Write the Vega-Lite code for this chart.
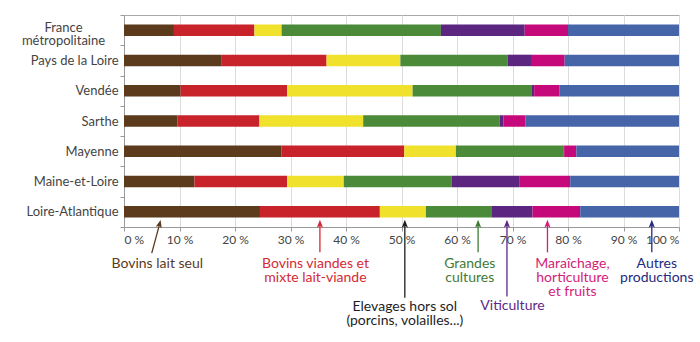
{
  "$schema": "https://vega.github.io/schema/vega-lite/v6.json",
  "width": 555,
  "height": 212,
  "autosize": {"type": "none"},
  "padding": {"left": 124, "top": 15, "right": 21, "bottom": 115},
  "config": {"view": {"stroke": "#a8a8a8"}, "font": "Lato", "text": {"font": "Lato"}},
  "datasets": {
    "bars": [
      {"region": "France métropolitaine", "category": "Bovins lait seul", "rank": 1, "share": 9.0},
      {"region": "France métropolitaine", "category": "Bovins viandes et mixte lait-viande", "rank": 2, "share": 14.5},
      {"region": "France métropolitaine", "category": "Elevages hors sol", "rank": 3, "share": 4.9},
      {"region": "France métropolitaine", "category": "Grandes cultures", "rank": 4, "share": 28.7},
      {"region": "France métropolitaine", "category": "Viticulture", "rank": 5, "share": 15.1},
      {"region": "France métropolitaine", "category": "Maraîchage, horticulture et fruits", "rank": 6, "share": 7.8},
      {"region": "France métropolitaine", "category": "Autres productions", "rank": 7, "share": 20.0},
      {"region": "Pays de la Loire", "category": "Bovins lait seul", "rank": 1, "share": 17.5},
      {"region": "Pays de la Loire", "category": "Bovins viandes et mixte lait-viande", "rank": 2, "share": 19.0},
      {"region": "Pays de la Loire", "category": "Elevages hors sol", "rank": 3, "share": 13.3},
      {"region": "Pays de la Loire", "category": "Grandes cultures", "rank": 4, "share": 19.3},
      {"region": "Pays de la Loire", "category": "Viticulture", "rank": 5, "share": 4.4},
      {"region": "Pays de la Loire", "category": "Maraîchage, horticulture et fruits", "rank": 6, "share": 5.9},
      {"region": "Pays de la Loire", "category": "Autres productions", "rank": 7, "share": 20.6},
      {"region": "Vendée", "category": "Bovins lait seul", "rank": 1, "share": 10.2},
      {"region": "Vendée", "category": "Bovins viandes et mixte lait-viande", "rank": 2, "share": 19.2},
      {"region": "Vendée", "category": "Elevages hors sol", "rank": 3, "share": 22.6},
      {"region": "Vendée", "category": "Grandes cultures", "rank": 4, "share": 21.4},
      {"region": "Vendée", "category": "Viticulture", "rank": 5, "share": 0.5},
      {"region": "Vendée", "category": "Maraîchage, horticulture et fruits", "rank": 6, "share": 4.6},
      {"region": "Vendée", "category": "Autres productions", "rank": 7, "share": 21.5},
      {"region": "Sarthe", "category": "Bovins lait seul", "rank": 1, "share": 9.6},
      {"region": "Sarthe", "category": "Bovins viandes et mixte lait-viande", "rank": 2, "share": 14.8},
      {"region": "Sarthe", "category": "Elevages hors sol", "rank": 3, "share": 18.7},
      {"region": "Sarthe", "category": "Grandes cultures", "rank": 4, "share": 24.6},
      {"region": "Sarthe", "category": "Viticulture", "rank": 5, "share": 0.7},
      {"region": "Sarthe", "category": "Maraîchage, horticulture et fruits", "rank": 6, "share": 3.9},
      {"region": "Sarthe", "category": "Autres productions", "rank": 7, "share": 27.7},
      {"region": "Mayenne", "category": "Bovins lait seul", "rank": 1, "share": 28.4},
      {"region": "Mayenne", "category": "Bovins viandes et mixte lait-viande", "rank": 2, "share": 22.1},
      {"region": "Mayenne", "category": "Elevages hors sol", "rank": 3, "share": 9.3},
      {"region": "Mayenne", "category": "Grandes cultures", "rank": 4, "share": 19.4},
      {"region": "Mayenne", "category": "Viticulture", "rank": 5, "share": 0.1},
      {"region": "Mayenne", "category": "Maraîchage, horticulture et fruits", "rank": 6, "share": 2.2},
      {"region": "Mayenne", "category": "Autres productions", "rank": 7, "share": 18.5},
      {"region": "Maine-et-Loire", "category": "Bovins lait seul", "rank": 1, "share": 12.7},
      {"region": "Maine-et-Loire", "category": "Bovins viandes et mixte lait-viande", "rank": 2, "share": 16.7},
      {"region": "Maine-et-Loire", "category": "Elevages hors sol", "rank": 3, "share": 10.2},
      {"region": "Maine-et-Loire", "category": "Grandes cultures", "rank": 4, "share": 19.4},
      {"region": "Maine-et-Loire", "category": "Viticulture", "rank": 5, "share": 12.2},
      {"region": "Maine-et-Loire", "category": "Maraîchage, horticulture et fruits", "rank": 6, "share": 9.2},
      {"region": "Maine-et-Loire", "category": "Autres productions", "rank": 7, "share": 19.6},
      {"region": "Loire-Atlantique", "category": "Bovins lait seul", "rank": 1, "share": 24.5},
      {"region": "Loire-Atlantique", "category": "Bovins viandes et mixte lait-viande", "rank": 2, "share": 21.6},
      {"region": "Loire-Atlantique", "category": "Elevages hors sol", "rank": 3, "share": 8.3},
      {"region": "Loire-Atlantique", "category": "Grandes cultures", "rank": 4, "share": 11.9},
      {"region": "Loire-Atlantique", "category": "Viticulture", "rank": 5, "share": 7.3},
      {"region": "Loire-Atlantique", "category": "Maraîchage, horticulture et fruits", "rank": 6, "share": 8.6},
      {"region": "Loire-Atlantique", "category": "Autres productions", "rank": 7, "share": 17.8}
    ],
    "arrows": [
      {"category": "Bovins lait seul", "xTail": 5.0, "yTail": 17.0, "xTip": 6.4, "yTip": 14.95},
      {"category": "Bovins viandes et mixte lait-viande", "xTail": 35.3, "yTail": 16.95, "xTip": 35.3, "yTip": 14.95},
      {"category": "Elevages hors sol", "xTail": 50.6, "yTail": 20.2, "xTip": 50.6, "yTip": 14.95},
      {"category": "Grandes cultures", "xTail": 63.8, "yTail": 16.95, "xTip": 63.8, "yTip": 14.95},
      {"category": "Viticulture", "xTail": 69.0, "yTail": 20.1, "xTip": 69.0, "yTip": 14.95},
      {"category": "Maraîchage, horticulture et fruits", "xTail": 76.3, "yTail": 16.95, "xTip": 76.3, "yTip": 14.95},
      {"category": "Autres productions", "xTail": 95.1, "yTail": 16.95, "xTip": 95.1, "yTip": 14.95}
    ],
    "notes": [
      {"category": "Bovins lait seul", "label": "Bovins lait seul", "x": 6.0, "line": 17.25},
      {"category": "Bovins viandes et mixte lait-viande", "label": "Bovins viandes et\nmixte lait-viande", "x": 34.5, "line": 17.25},
      {"category": "Elevages hors sol", "label": "Elevages hors sol\n(porcins, volailles...)", "x": 50.6, "line": 20.35},
      {"category": "Grandes cultures", "label": "Grandes\ncultures", "x": 62.3, "line": 17.25},
      {"category": "Viticulture", "label": "Viticulture", "x": 70.0, "line": 20.25},
      {"category": "Maraîchage, horticulture et fruits", "label": "Maraîchage,\nhorticulture\net fruits", "x": 80.8, "line": 17.25},
      {"category": "Autres productions", "label": "Autres\nproductions", "x": 96.0, "line": 17.25}
    ]
  },
  "layer": [
    {
      "data": {"name": "bars"},
      "mark": {"type": "bar", "size": 11.5},
      "encoding": {
        "y": {
          "field": "region",
          "type": "nominal",
          "sort": ["France métropolitaine", "Pays de la Loire", "Vendée", "Sarthe", "Mayenne", "Maine-et-Loire", "Loire-Atlantique"],
          "scale": {"paddingInner": 0, "paddingOuter": 0},
          "axis": {
            "title": null,
            "tickBand": "extent",
            "tickSize": 4,
            "tickColor": "#999999",
            "domainColor": "#999999",
            "labelFont": "Lato",
            "labelFontSize": 13,
            "labelColor": "#444444",
            "labelLimit": 200,
            "labelLineHeight": 13.5,
            "labelPadding": {"condition": {"test": "datum.value === 'France métropolitaine'", "value": 57}, "value": 2},
            "labelAlign": {"condition": {"test": "datum.value === 'France métropolitaine'", "value": "center"}, "value": "right"},
            "labelOffset": {"condition": {"test": "datum.value === 'France métropolitaine'", "value": -3}, "value": 0},
            "labelExpr": "datum.value === 'France métropolitaine' ? ['France', 'métropolitaine'] : datum.value"
          }
        },
        "x": {
          "field": "share",
          "type": "quantitative",
          "stack": "zero",
          "scale": {"domain": [0, 100], "nice": false},
          "axis": {
            "title": null,
            "values": [0, 10, 20, 30, 40, 50, 60, 70, 80, 90, 100],
            "labelExpr": "datum.value + ' %'",
            "grid": true,
            "gridColor": "#dcdcdc",
            "tickSize": 4,
            "tickColor": "#999999",
            "domainColor": "#999999",
            "labelFont": "Lato",
            "labelFontSize": 12,
            "labelColor": "#444444",
            "labelPadding": 3
          }
        },
        "color": {
          "field": "category",
          "type": "nominal",
          "scale": {
            "domain": ["Bovins lait seul", "Bovins viandes et mixte lait-viande", "Elevages hors sol", "Grandes cultures", "Viticulture", "Maraîchage, horticulture et fruits", "Autres productions"],
            "range": ["#5b3b1c", "#c8232b", "#f0e12d", "#4a8a39", "#5b2580", "#c6097a", "#4565a8"]
          },
          "legend": null
        },
        "order": {"field": "rank", "type": "quantitative"}
      }
    },
    {
      "layer": [
        {
          "data": {"name": "arrows"},
          "mark": {"type": "rule", "strokeWidth": 1.3},
          "encoding": {
            "x": {"field": "xTail", "type": "quantitative"},
            "y": {"field": "yTail", "type": "quantitative", "scale": {"domain": [0, 15.14], "reverse": true, "nice": false, "zero": false}, "axis": null},
            "x2": {"field": "xTip"},
            "y2": {"field": "yTip"},
            "color": {
              "field": "category",
              "type": "nominal",
              "scale": {
                "domain": ["Bovins lait seul", "Bovins viandes et mixte lait-viande", "Elevages hors sol", "Grandes cultures", "Viticulture", "Maraîchage, horticulture et fruits", "Autres productions"],
                "range": ["#5a3a1e", "#d42a33", "#1e1e1e", "#3f7a35", "#5e2888", "#d41c78", "#262a80"]
              },
              "legend": null
            }
          }
        },
        {
          "data": {"name": "arrows"},
          "mark": {"type": "point", "shape": "M0,-1L0.7,0.75L0,0.3L-0.7,0.75Z", "filled": true, "opacity": 1, "size": 80},
          "encoding": {
            "x": {"field": "xTip", "type": "quantitative"},
            "y": {"field": "yTip", "type": "quantitative"},
            "angle": {"condition": {"test": "datum.category === 'Bovins lait seul'", "value": 14}, "value": 0},
            "color": {"field": "category", "type": "nominal", "legend": null}
          }
        },
        {
          "data": {"name": "notes"},
          "mark": {"type": "text", "baseline": "top", "lineBreak": "\n", "fontSize": 14, "lineHeight": 14.3, "font": "Lato"},
          "encoding": {
            "x": {"field": "x", "type": "quantitative"},
            "y": {"field": "line", "type": "quantitative"},
            "text": {"field": "label"},
            "color": {"field": "category", "type": "nominal", "legend": null}
          }
        }
      ]
    }
  ],
  "resolve": {"scale": {"y": "independent", "color": "independent"}, "axis": {"y": "independent"}}
}
